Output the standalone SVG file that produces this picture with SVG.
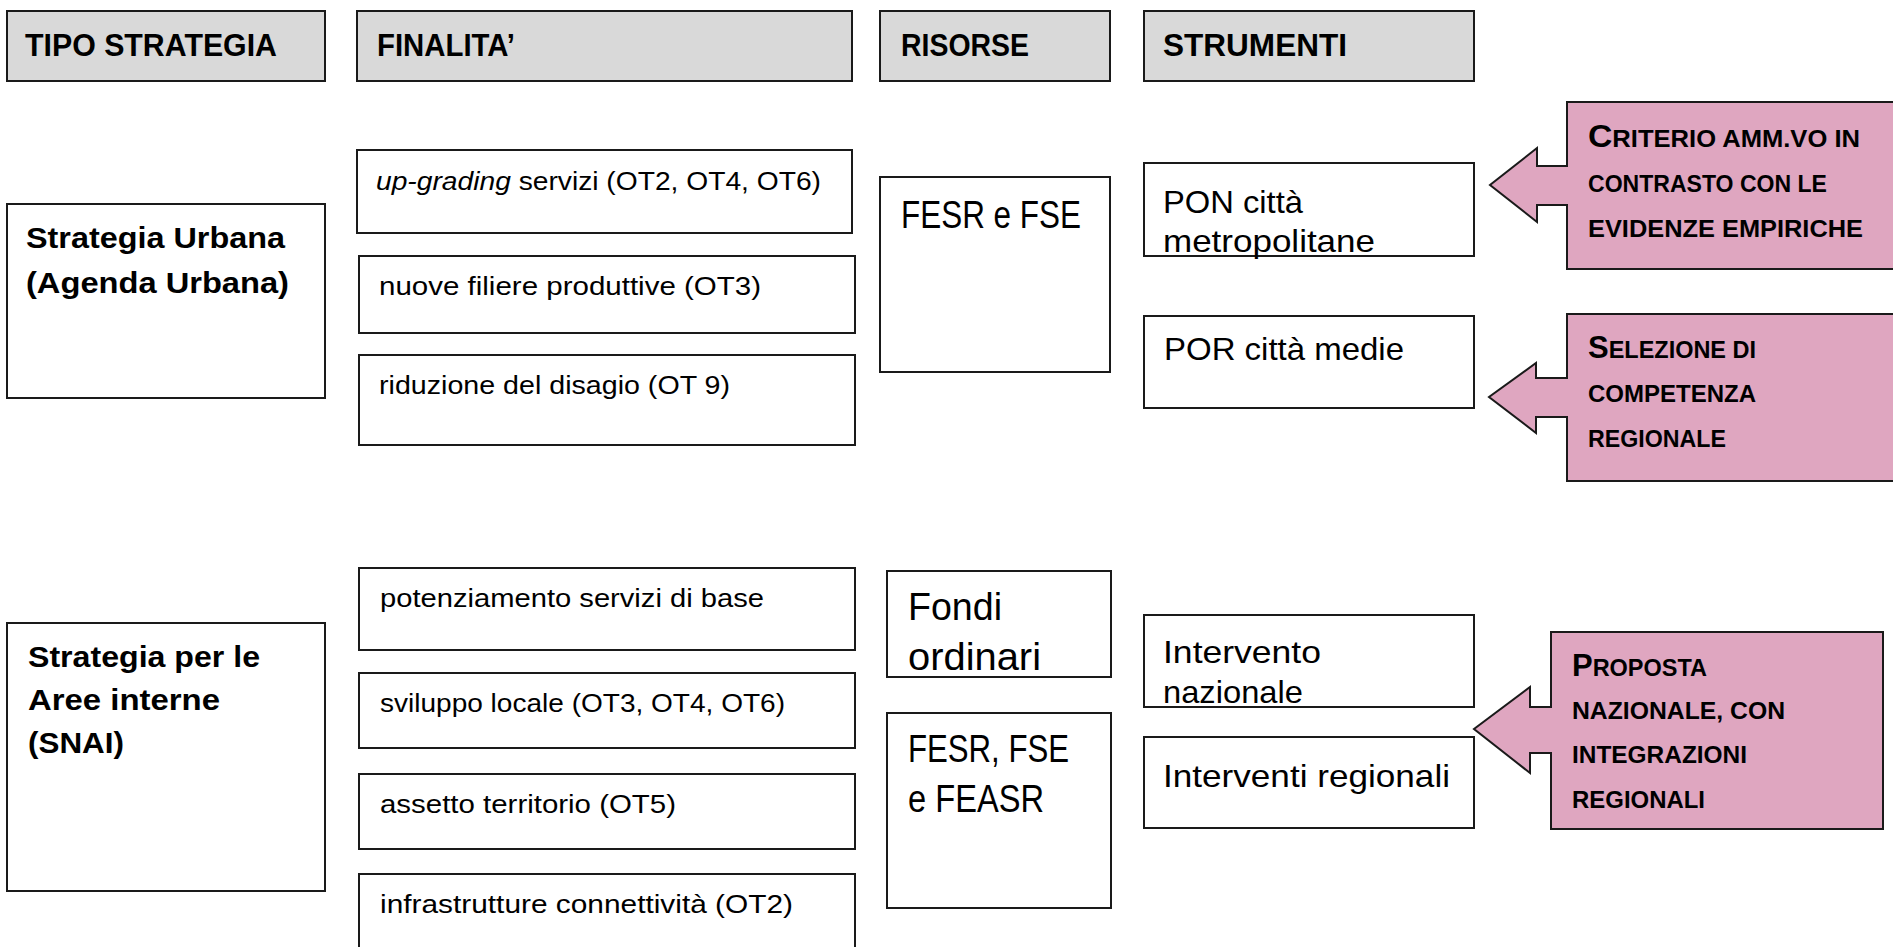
<svg xmlns="http://www.w3.org/2000/svg" width="1893" height="947" viewBox="0 0 1893 947">
<style>
.box{fill:#ffffff;stroke:#1a1a1a;stroke-width:2}
.hdr{fill:#d9d9d9;stroke:#1a1a1a;stroke-width:2}
.pink{fill:#dfa6c0;stroke:#1a1a1a;stroke-width:2;stroke-linejoin:miter}
text{font-family:"Liberation Sans",Arial,sans-serif;fill:#000}
.h{font-size:32px;font-weight:bold}
.b{font-size:29px;font-weight:bold}
.f{font-size:25px}
.m{font-size:32px}
.l{font-size:38px}
.sc{font-size:23.5px;font-weight:bold}
.big{font-size:31px}
</style>
<rect width="1893" height="947" fill="#ffffff"/>

<g id="hdr-tipo"><rect class="hdr" x="7" y="11" width="318" height="70"/><text class="h" x="25" y="56" textLength="252" lengthAdjust="spacingAndGlyphs">TIPO STRATEGIA</text></g>
<g id="hdr-finalita"><rect class="hdr" x="357" y="11" width="495" height="70"/><text class="h" x="377" y="56" textLength="138" lengthAdjust="spacingAndGlyphs">FINALITA’</text></g>
<g id="hdr-risorse"><rect class="hdr" x="880" y="11" width="230" height="70"/><text class="h" x="901" y="56" textLength="128" lengthAdjust="spacingAndGlyphs">RISORSE</text></g>
<g id="hdr-strumenti"><rect class="hdr" x="1144" y="11" width="330" height="70"/><text class="h" x="1163" y="56" textLength="184" lengthAdjust="spacingAndGlyphs">STRUMENTI</text></g>

<g id="strategia-urbana"><rect class="box" x="7" y="204" width="318" height="194"/>
<text class="b" x="26" y="248" textLength="259" lengthAdjust="spacingAndGlyphs">Strategia Urbana</text>
<text class="b" x="26" y="293" textLength="263" lengthAdjust="spacingAndGlyphs">(Agenda Urbana)</text></g>

<g id="fin-upgrading"><rect class="box" x="357" y="150" width="495" height="83"/><text class="f" x="376" y="190" textLength="445" lengthAdjust="spacingAndGlyphs"><tspan font-style="italic">up-grading</tspan> servizi (OT2, OT4, OT6)</text></g>
<g id="fin-filiere"><rect class="box" x="359" y="256" width="496" height="77"/><text class="f" x="379" y="295" textLength="382" lengthAdjust="spacingAndGlyphs">nuove filiere produttive (OT3)</text></g>
<g id="fin-disagio"><rect class="box" x="359" y="355" width="496" height="90"/><text class="f" x="379" y="394" textLength="351" lengthAdjust="spacingAndGlyphs">riduzione del disagio (OT 9)</text></g>

<g id="ris-fesr-fse"><rect class="box" x="880" y="177" width="230" height="195"/><text class="l" x="901" y="228" textLength="180" lengthAdjust="spacingAndGlyphs">FESR e FSE</text></g>

<g id="str-pon"><rect class="box" x="1144" y="163" width="330" height="93"/>
<text class="m" x="1163" y="213" textLength="140" lengthAdjust="spacingAndGlyphs">PON città</text>
<text class="m" x="1163" y="252" textLength="212" lengthAdjust="spacingAndGlyphs">metropolitane</text></g>
<g id="str-por"><rect class="box" x="1144" y="316" width="330" height="92"/><text class="m" x="1164" y="360" textLength="240" lengthAdjust="spacingAndGlyphs">POR città medie</text></g>

<g id="note-criterio"><path class="pink" d="M1567,102 H1900 V269 H1567 V205 H1537 V222 L1490,185 L1537,148 V166 H1567 Z"/>
<text class="sc" x="1588" y="147" textLength="272" lengthAdjust="spacingAndGlyphs"><tspan class="big">C</tspan>RITERIO AMM.VO IN</text>
<text class="sc" x="1588" y="192" textLength="239" lengthAdjust="spacingAndGlyphs">CONTRASTO CON LE</text>
<text class="sc" x="1588" y="237" textLength="275" lengthAdjust="spacingAndGlyphs">EVIDENZE EMPIRICHE</text></g>

<g id="note-selezione"><path class="pink" d="M1567,314 H1900 V481 H1567 V417 H1536 V433 L1489,397 L1536,363 V378 H1567 Z"/>
<text class="sc" x="1588" y="358" textLength="168" lengthAdjust="spacingAndGlyphs"><tspan class="big">S</tspan>ELEZIONE DI</text>
<text class="sc" x="1588" y="402" textLength="168" lengthAdjust="spacingAndGlyphs">COMPETENZA</text>
<text class="sc" x="1588" y="447" textLength="138" lengthAdjust="spacingAndGlyphs">REGIONALE</text></g>

<g id="strategia-snai"><rect class="box" x="7" y="623" width="318" height="268"/>
<text class="b" x="28" y="667" textLength="232" lengthAdjust="spacingAndGlyphs">Strategia per le</text>
<text class="b" x="28" y="710" textLength="192" lengthAdjust="spacingAndGlyphs">Aree interne</text>
<text class="b" x="28" y="753" textLength="96" lengthAdjust="spacingAndGlyphs">(SNAI)</text></g>

<g id="fin-potenziamento"><rect class="box" x="359" y="568" width="496" height="82"/><text class="f" x="380" y="607" textLength="384" lengthAdjust="spacingAndGlyphs">potenziamento servizi di base</text></g>
<g id="fin-sviluppo"><rect class="box" x="359" y="673" width="496" height="75"/><text class="f" x="380" y="712" textLength="405" lengthAdjust="spacingAndGlyphs">sviluppo locale (OT3, OT4, OT6)</text></g>
<g id="fin-assetto"><rect class="box" x="359" y="774" width="496" height="75"/><text class="f" x="380" y="813" textLength="296" lengthAdjust="spacingAndGlyphs">assetto territorio (OT5)</text></g>
<g id="fin-infrastrutture"><rect class="box" x="359" y="874" width="496" height="90"/><text class="f" x="380" y="913" textLength="413" lengthAdjust="spacingAndGlyphs">infrastrutture connettività (OT2)</text></g>

<g id="ris-fondi"><rect class="box" x="887" y="571" width="224" height="106"/>
<text class="l" x="908" y="620" textLength="94" lengthAdjust="spacingAndGlyphs">Fondi</text>
<text class="l" x="908" y="670" textLength="133" lengthAdjust="spacingAndGlyphs">ordinari</text></g>
<g id="ris-fesr-fse-feasr"><rect class="box" x="887" y="713" width="224" height="195"/>
<text class="l" x="908" y="762" textLength="161" lengthAdjust="spacingAndGlyphs">FESR, FSE</text>
<text class="l" x="908" y="812" textLength="136" lengthAdjust="spacingAndGlyphs">e FEASR</text></g>

<g id="str-nazionale"><rect class="box" x="1144" y="615" width="330" height="92"/>
<text class="m" x="1163" y="663" textLength="158" lengthAdjust="spacingAndGlyphs">Intervento</text>
<text class="m" x="1163" y="703" textLength="140" lengthAdjust="spacingAndGlyphs">nazionale</text></g>
<g id="str-regionali"><rect class="box" x="1144" y="737" width="330" height="91"/><text class="m" x="1163" y="787" textLength="287" lengthAdjust="spacingAndGlyphs">Interventi regionali</text></g>

<g id="note-proposta"><path class="pink" d="M1551,632 H1883 V829 H1551 V753 H1530 V773 L1474,729 L1530,687 V707 H1551 Z"/>
<text class="sc" x="1572" y="676" textLength="135" lengthAdjust="spacingAndGlyphs"><tspan class="big">P</tspan>ROPOSTA</text>
<text class="sc" x="1572" y="719" textLength="213" lengthAdjust="spacingAndGlyphs">NAZIONALE, CON</text>
<text class="sc" x="1572" y="763" textLength="175" lengthAdjust="spacingAndGlyphs">INTEGRAZIONI</text>
<text class="sc" x="1572" y="808" textLength="133" lengthAdjust="spacingAndGlyphs">REGIONALI</text></g>

<g id="connectors"></g>
</svg>
